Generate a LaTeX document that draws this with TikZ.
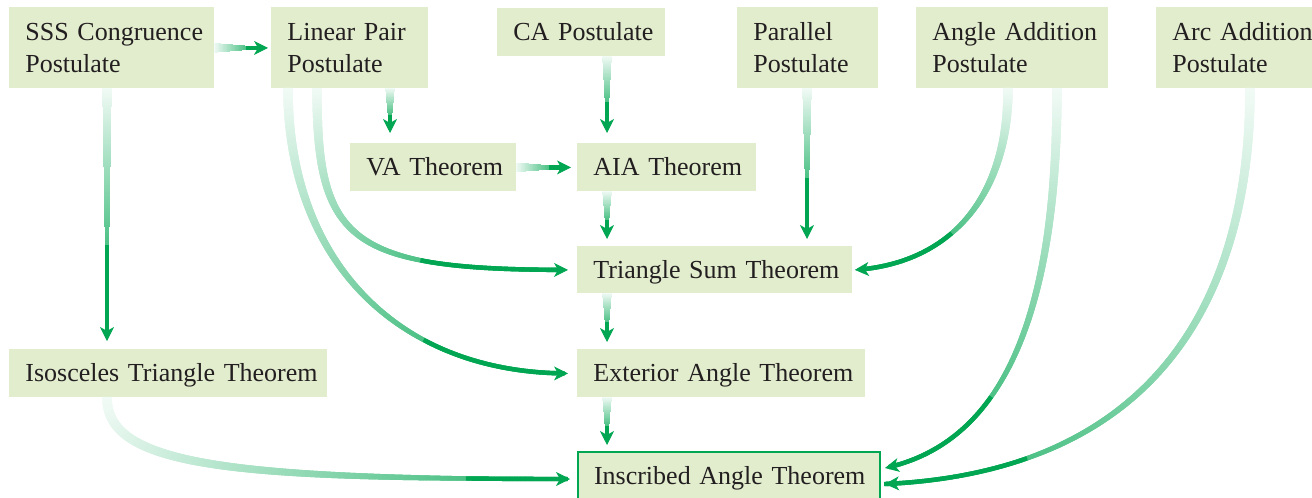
\documentclass[tikz,border=0pt]{standalone}
\usepackage{fontspec}
\setmainfont{Liberation Serif}
\usetikzlibrary{arrows.meta,decorations.markings,calc}
\definecolor{agreen}{RGB}{0,166,81}
\definecolor{boxfill}{RGB}{226,237,206}
\definecolor{txt}{RGB}{35,31,32}
\newcommand\gradmark[1]{%
  \pgfmathsetmacro\gradratio{(\pgfkeysvalueof{/pgf/decoration/mark info/distance from start})/(\pgfdecoratedpathlength)}%
  \pgfmathsetmacro\gradpct{\gradratio<#1 ? 5+65*\gradratio/#1 : 100}%
  \pgfmathsetmacro\gradhw{\gradratio<#1 ? 2.4-1.3*\gradratio/#1 : 1.1}%
  \fill[agreen!\gradpct!white] (-0.5pt,-\gradhw pt) rectangle (0.5pt,\gradhw pt);}
\begin{document}
\begin{tikzpicture}[x=0.5pt,y=-0.5pt,
  box/.style={fill=boxfill, text=txt, anchor=north west, inner xsep=0pt, inner ysep=0pt,
    align=left, execute at begin node={\leftskip=8pt}, font=\fontsize{13}{16}\selectfont},
  one/.style={box, text height=8.4pt, text depth=0pt, minimum height=24pt},
  two/.style={box, text height=8.4pt, text depth=16pt, minimum height=40.5pt},
  conn/.style={draw=agreen, line width=0.4pt, dash pattern=on 0pt off 10000pt,
     -{Stealth[length=7pt,width=7pt,inset=2pt]},
     preaction={decorate, decoration={markings,
       mark=between positions 0 and -5pt step 0.4pt with {\gradmark{#1}}}}},
  conn/.default=0.6]
\useasboundingbox (0,0) rectangle (1312,498);
% nodes
\node[two, text width=102.5pt] (sss) at (9,7) {SSS Congruence\\Postulate};
\node[two, text width=78.5pt] (lin) at (271,7) {Linear Pair\\Postulate};
\node[one, text width=84pt] (ca) at (497,8) {CA Postulate};
\node[two, text width=70.5pt] (par) at (737,7) {Parallel\\Postulate};
\node[two, text width=96pt] (ang) at (916,7) {Angle Addition\\Postulate};
\node[two, text width=90pt] (arc) at (1156,7) {Arc Addition\\Postulate};
\node[one, text width=83pt] (va) at (350,143) {VA Theorem};
\node[one, text width=89.5pt] (aia) at (577,143) {AIA Theorem};
\node[one, text width=137.5pt, minimum height=23.5pt] (tri) at (577,246) {Triangle Sum Theorem};
\node[one, text width=159pt] (iso) at (9,349) {Isosceles Triangle Theorem};
\node[one, text width=144pt] (ext) at (577,349) {Exterior Angle Theorem};
\node[one, text width=151pt, draw=agreen, line width=1pt] (ins) at (577,451) {Inscribed Angle Theorem};
% straight connectors
\draw[conn] (sss.east) -- ($(lin.west)+(-3,0)$);
\draw[conn] ($(lin.south west)+(119,0)$) -- ($(va.north west)+(40,-10)$);
\draw[conn] ($(ca.south west)+(110,0)$) -- ($(aia.north west)+(30,-10)$);
\draw[conn] (va.east) -- ($(aia.west)+(-6,0)$);
\draw[conn] ($(aia.south west)+(30,0)$) -- ($(tri.north west)+(30,-7)$);
\draw[conn] ($(par.south west)+(70,0)$) -- ($(tri.north west)+(230,-7)$);
\draw[conn=0.62] ($(sss.south west)+(98,0)$) -- ($(iso.north west)+(98,-8)$);
\draw[conn] ($(tri.south west)+(30,0)$) -- ($(ext.north west)+(30,-7)$);
\draw[conn] ($(ext.south west)+(30,0)$) -- ($(ins.north west)+(30,-6)$);
% curved connectors
\draw[conn=0.6] ($(lin.south west)+(46,0)$) .. controls +(0,152) and +(-220,0) .. ($(tri.west)+(-9,0)$);
\draw[conn=0.66] ($(lin.south west)+(17,0)$) .. controls +(0,172) and +(-170,0) .. ($(ext.west)+(-9,0)$);
\draw[conn=0.6] ($(ang.south west)+(92,0)$) .. controls +(0,112) and +(92,-6) .. ($(tri.east)+(2,0)$);
\draw[conn=0.7] ($(ang.south west)+(141,0)$) .. controls +(0,212) and +(125,-27) .. ($(ins.east)+(4,-8)$);
\draw[conn=0.75] ($(arc.south west)+(94,0)$) .. controls +(0,192) and +(285,-13) .. ($(ins.east)+(4,8)$);
\draw[conn=0.78] ($(iso.south west)+(98,0)$) .. controls +(0,68) and +(-340,0) .. ($(ins.west)+(-7,3)$);
\end{tikzpicture}
\end{document}
